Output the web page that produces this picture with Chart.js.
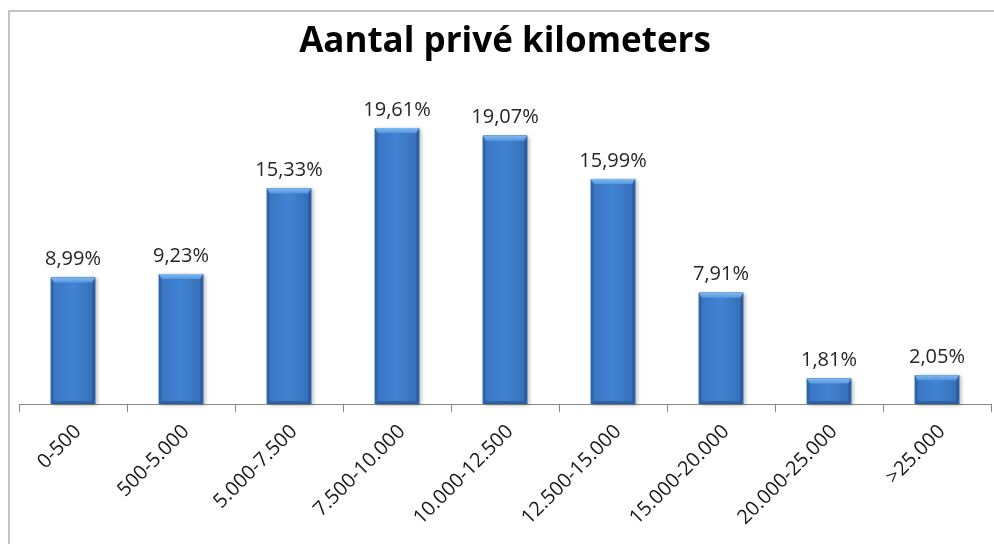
<!DOCTYPE html>
<html>
<head>
<meta charset="utf-8">
<script src="https://cdn.jsdelivr.net/npm/chart.js@4"></script>
<style>
    html, body { margin: 0; padding: 0; background: #fff; overflow: hidden; }
    #wrap { position: relative; width: 994px; height: 544px; }
    #frame { position: absolute; left: 8px; top: 10px; width: 1100px; height: 700px;
             border-top: 2px solid #c4c4c4; border-left: 2px solid #c4c4c4; }
    canvas { position: absolute; left: 0; top: 0; }
</style>
</head>
<body>
<div id="wrap">
    <div id="frame"></div>
    <canvas id="myChart" width="994" height="544"></canvas>
</div>
<script>
// Chart data
const categories = ['0-500', '500-5.000', '5.000-7.500', '7.500-10.000', '10.000-12.500',
                    '12.500-15.000', '15.000-20.000', '20.000-25.000', '>25.000'];
const percentages = [8.99, 9.23, 15.33, 19.61, 19.07, 15.99, 7.91, 1.81, 2.05];
const chartTitle = 'Aantal privé kilometers';

// Format like the Dutch Excel labels: 8,99%
function formatPct(v){
    return v.toFixed(2).replace('.', ',') + '%';
}

// Shadow behind each bar
const barShadow = {
    id: 'barShadow',
    beforeDatasetsDraw(chart){
        const ctx = chart.ctx;
        const meta = chart.getDatasetMeta(0);
        ctx.save();
        for(const bar of meta.data){
            const p = bar.getProps(['x', 'y', 'base', 'width'], true);
            const left = p.x - p.width / 2;
            ctx.shadowColor = 'rgba(0,0,0,0.3)';
            ctx.shadowBlur = 4;
            ctx.shadowOffsetX = 2;
            ctx.shadowOffsetY = 1;
            ctx.fillStyle = '#3a73bd';
            ctx.fillRect(left, p.y, p.width, p.base - p.y);
        }
        ctx.restore();
    }
};

// Bevelled look of the Excel bars
const barBevel = {
    id: 'barBevel',
    afterDatasetsDraw(chart){
        const ctx = chart.ctx;
        const meta = chart.getDatasetMeta(0);
        ctx.save();
        for(const bar of meta.data){
            const p = bar.getProps(['x', 'y', 'base', 'width'], true);
            const l = p.x - p.width / 2;
            const r = p.x + p.width / 2;
            const t = p.y;
            const b = p.base;
            const bev = Math.min(5, (b - t) / 3);

            // body
            const g = ctx.createLinearGradient(l, 0, r, 0);
            g.addColorStop(0, '#3b74c0');
            g.addColorStop(0.5, '#4083d4');
            g.addColorStop(1, '#376db4');
            ctx.fillStyle = g;
            ctx.fillRect(l, t, r - l, b - t);

            // left edge
            ctx.fillStyle = '#3166ad';
            ctx.beginPath();
            ctx.moveTo(l, t); ctx.lineTo(l + 3, t + bev); ctx.lineTo(l + 3, b - 3); ctx.lineTo(l, b);
            ctx.closePath(); ctx.fill();

            // right edge
            ctx.fillStyle = '#2d5e9f';
            ctx.beginPath();
            ctx.moveTo(r, t); ctx.lineTo(r - 3, t + bev); ctx.lineTo(r - 3, b - 3); ctx.lineTo(r, b);
            ctx.closePath(); ctx.fill();

            // bottom edge
            ctx.fillStyle = '#2e5f9f';
            ctx.beginPath();
            ctx.moveTo(l, b); ctx.lineTo(l + 3, b - 3); ctx.lineTo(r - 3, b - 3); ctx.lineTo(r, b);
            ctx.closePath(); ctx.fill();

            // top edge
            const tg = ctx.createLinearGradient(0, t, 0, t + bev);
            tg.addColorStop(0, '#7fbaf2');
            tg.addColorStop(1, '#5896de');
            ctx.fillStyle = tg;
            ctx.beginPath();
            ctx.moveTo(l, t); ctx.lineTo(r, t); ctx.lineTo(r - 3, t + bev); ctx.lineTo(l + 3, t + bev);
            ctx.closePath(); ctx.fill();
        }
        ctx.restore();
    }
};

// Value labels above bars
const valueLabels = {
    id: 'valueLabels',
    afterDatasetsDraw(chart){
        const ctx = chart.ctx;
        const meta = chart.getDatasetMeta(0);
        ctx.save();
        ctx.font = '20px "Open Sans"';
        ctx.fillStyle = '#262626';
        ctx.textAlign = 'center';
        ctx.textBaseline = 'bottom';
        meta.data.forEach((bar, i) => {
            ctx.fillText(formatPct(percentages[i]), bar.x, bar.y - 8);
        });
        ctx.restore();
    }
};

document.addEventListener('DOMContentLoaded', function () {
    const ctx = document.getElementById('myChart').getContext('2d');
    new Chart(ctx, {
        type: 'bar',
        data: {
            labels: categories,
            datasets: [{
                data: percentages,
                backgroundColor: '#3a73bd',
                barPercentage: 0.41,
                categoryPercentage: 1
            }]
        },
        options: {
            responsive: false,
            animation: false,
            layout: { padding: { left: 19, right: 3, top: 0, bottom: 0 } },
            plugins: {
                legend: { display: false },
                tooltip: { enabled: false },
                title: {
                    display: true,
                    text: chartTitle,
                    color: '#000',
                    font: { family: '"Open Sans"', size: 35, weight: 'bold' },
                    padding: { top: 21, bottom: 31.4 }
                }
            },
            scales: {
                x: {
                    grid: { offset: true, drawOnChartArea: false, drawTicks: true, tickLength: 8, color: '#888' },
                    border: { display: true, color: '#888', width: 1 },
                    ticks: {
                        color: '#1a1a1a',
                        font: { family: '"Open Sans"', size: 20 },
                        maxRotation: 45,
                        minRotation: 45,
                        padding: 8,
                        labelOffset: 5
                    },
                    afterFit: function(scale){ scale.height = 140; }
                },
                y: {
                    display: false,
                    min: 0,
                    max: 22
                }
            }
        },
        plugins: [barShadow, barBevel, valueLabels]
    });
});
</script>
</body>
</html>
